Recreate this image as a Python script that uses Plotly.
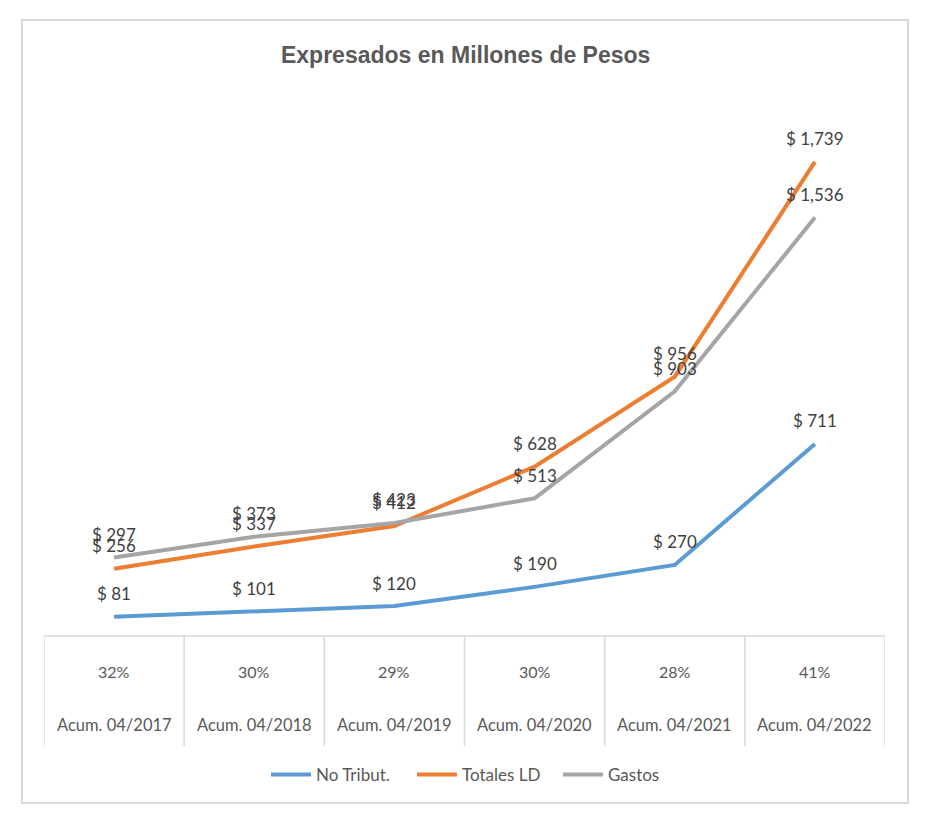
import plotly.graph_objects as go

categories = ["Acum. 04/2017", "Acum. 04/2018", "Acum. 04/2019", "Acum. 04/2020", "Acum. 04/2021", "Acum. 04/2022"]
percentages = ["32%", "30%", "29%", "30%", "28%", "41%"]
no_tribut = [81, 101, 120, 190, 270, 711]
totales_ld = [256, 337, 412, 628, 956, 1739]
gastos = [297, 373, 423, 513, 903, 1536]

W, H = 937, 839
L, R, T, B = 44, 52, 93, 203
pw, ph = W - L - R, H - T - B

def px_x(x):
    return (x - L) / pw

def px_y(y):
    return (H - B - y) / ph

FONT = "Lato"
idx = list(range(len(categories)))

fig = go.Figure()
series = [
    ("No Tribut.", no_tribut, "#5B9BD5"),
    ("Totales LD", totales_ld, "#ED7D31"),
    ("Gastos", gastos, "#A5A5A5"),
]
for name, vals, col in series:
    fig.add_trace(go.Scatter(x=idx, y=vals, mode="lines", name=name,
                             line=dict(color=col, width=4)))

annotations = []
for name, vals, col in series:
    for i, v in zip(idx, vals):
        annotations.append(dict(x=i, y=v, xref="x", yref="y", text=f"$ {v:,}",
                                showarrow=False, yshift=23,
                                font=dict(family=FONT, size=17, color="#404040")))
for i in idx:
    annotations.append(dict(x=i, y=px_y(671), xref="x", yref="paper", text=percentages[i],
                            showarrow=False, yanchor="middle",
                            font=dict(family=FONT, size=16, color="#595959")))
    annotations.append(dict(x=i, y=px_y(725), xref="x", yref="paper", text=categories[i],
                            showarrow=False, yanchor="middle",
                            font=dict(family=FONT, size=16.5, color="#595959")))

shapes = []
grid_col = "#D9D9D9"
shapes.append(dict(type="line", xref="paper", yref="paper", x0=0, x1=1,
                   y0=px_y(636), y1=px_y(636), line=dict(color=grid_col, width=1.5)))
for k in range(len(categories) + 1):
    shapes.append(dict(type="line", xref="x", yref="paper", x0=k - 0.5, x1=k - 0.5,
                       y0=px_y(636), y1=px_y(746), line=dict(color=grid_col, width=1.5)))
shapes.append(dict(type="rect", xref="paper", yref="paper",
                   x0=px_x(22), x1=px_x(908), y0=px_y(20), y1=px_y(803),
                   line=dict(color=grid_col, width=2)))

fig.update_layout(
    width=W, height=H,
    margin=dict(l=L, r=R, t=T, b=B),
    paper_bgcolor="white", plot_bgcolor="white",
    title=dict(text="<b>Expresados en Millones de Pesos</b>", x=0.497, xanchor="center",
               y=1 - 55 / H, yanchor="middle", yref="container",
               font=dict(family="Liberation Sans", size=23, color="#595959")),
    xaxis=dict(range=[-0.5, 5.5], showticklabels=False, showgrid=False, zeroline=False,
               showline=False, ticks=""),
    yaxis=dict(range=[11, 1990], visible=False, showgrid=False, zeroline=False),
    showlegend=True,
    legend=dict(orientation="h", x=px_x(266), xanchor="left", y=px_y(775), yanchor="middle",
                font=dict(family=FONT, size=17, color="#595959"), itemwidth=40,
                entrywidth=91, bgcolor="rgba(0,0,0,0)"),
    annotations=annotations,
    shapes=shapes,
)

fig.write_html("out.html")
